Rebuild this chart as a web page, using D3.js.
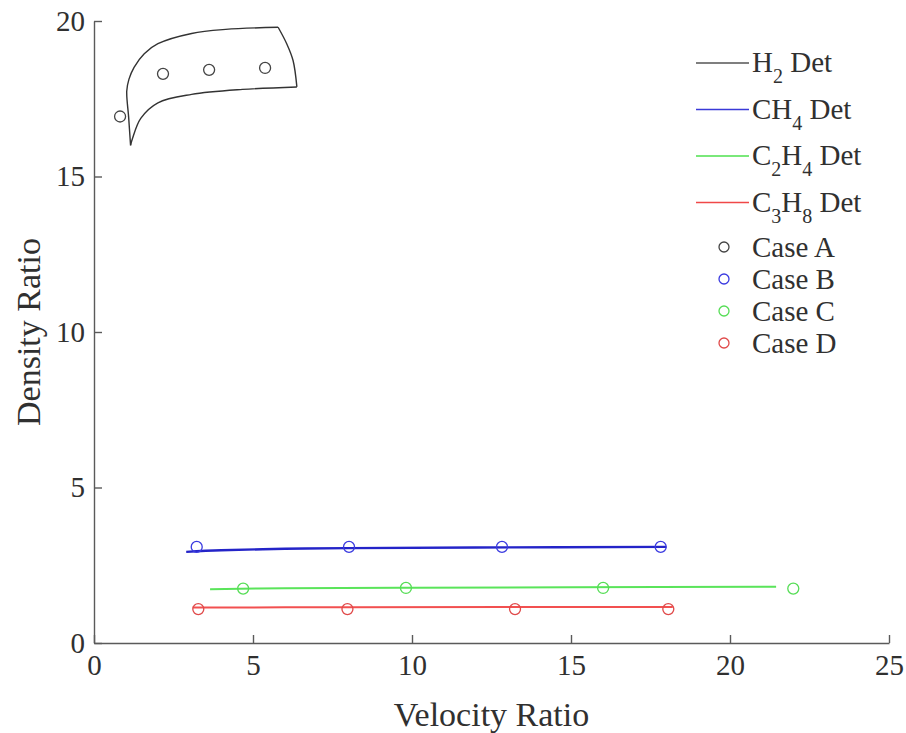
<!DOCTYPE html>
<html>
<head>
<meta charset="utf-8">
<script src="https://cdn.jsdelivr.net/npm/d3@7"></script>
<style>
  body { margin: 0; background: #fff; }
  svg { display: block; font-family: "Liberation Serif", "Times New Roman", serif; }
  .axis text { font-size: 29px; fill: #303030; font-family: "Liberation Serif", serif; }
  .axis path, .axis line { stroke: #5a5a5a; stroke-width: 1.4; }
</style>
</head>
<body>
<div id="svg-container"></div>
<script>
////////////////////////////////////////////////////////////////////
////////////////////////////  Data  ////////////////////////////////
const xTicks = [0, 5, 10, 15, 20, 25];
const yTicks = [0, 5, 10, 15, 20];

// detonation curves (velocity ratio, density ratio)
const h2Upper = [[1.15, 16.0], [1.09, 16.9], [1.03, 17.75], [1.10, 18.13], [1.26, 18.51], [1.58, 18.95], [2.01, 19.27], [3.07, 19.60], [4.14, 19.73], [5.79, 19.80]];
const h2Right = [[5.79, 19.80], [6.06, 19.27], [6.26, 18.73], [6.38, 17.88]];
const h2Lower = [[6.38, 17.88], [4.67, 17.80], [3.07, 17.64], [2.01, 17.37], [1.47, 16.87], [1.21, 16.22], [1.15, 16.0]];
const ch4Det = [[2.9, 2.93], [4.0, 2.98], [6.0, 3.03], [8.0, 3.05], [12.0, 3.07], [18.0, 3.09]];
const c2h4Det = [[3.65, 1.73], [6.0, 1.76], [10.0, 1.78], [15.0, 1.79], [21.45, 1.81]];
const c3h8Det = [[3.1, 1.14], [8.0, 1.15], [13.0, 1.16], [18.2, 1.16]];

// measured cases
const caseA = [[0.82, 16.93], [2.17, 18.30], [3.62, 18.43], [5.38, 18.49]];
const caseB = [[3.23, 3.09], [8.02, 3.09], [12.83, 3.09], [17.82, 3.09]];
const caseC = [[4.69, 1.75], [9.81, 1.77], [16.01, 1.77], [21.99, 1.75]];
const caseD = [[3.28, 1.09], [7.97, 1.09], [13.24, 1.09], [18.06, 1.09]];

const lineLegend = [
  { parts: [["H", 0], ["2", 1], [" Det", 0]], color: "#555" },
  { parts: [["CH", 0], ["4", 1], [" Det", 0]], color: "#3a3ad8" },
  { parts: [["C", 0], ["2", 1], ["H", 0], ["4", 1], [" Det", 0]], color: "#4ee04e" },
  { parts: [["C", 0], ["3", 1], ["H", 0], ["8", 1], [" Det", 0]], color: "#f04848" },
];
const caseLegend = [
  { label: "Case A", color: "#444" },
  { label: "Case B", color: "#3a3ae0" },
  { label: "Case C", color: "#55dd55" },
  { label: "Case D", color: "#e04a4a" },
];

////////////////////////////////////////////////////////////////////
////////////////////////////  Init  ////////////////////////////////
const width = 906;
const height = 733;
const margin = { top: 21, right: 17, bottom: 90, left: 94 };

const svg = d3.select("#svg-container").append("svg")
  .attr("width", width).attr("height", height);

const xScale = d3.scaleLinear().domain([0, 25]).range([margin.left, width - margin.right]);
const yScale = d3.scaleLinear().domain([0, 20]).range([height - margin.bottom, margin.top]);

const smooth = d3.line().x((d) => xScale(d[0])).y((d) => yScale(d[1])).curve(d3.curveCatmullRom);

// Axes (MATLAB style, ticks inside)
svg.append("g")
  .attr("class", "axis")
  .attr("transform", `translate(0,${height - margin.bottom})`)
  .call(d3.axisBottom(xScale).tickValues(xTicks).tickSize(-8).tickSizeOuter(0).tickPadding(11));

svg.append("g")
  .attr("class", "axis")
  .attr("transform", `translate(${margin.left},0)`)
  .call(d3.axisLeft(yScale).tickValues(yTicks).tickSize(-8).tickSizeOuter(0).tickPadding(9));

// Axis titles
svg.append("text")
  .attr("x", (margin.left + width - margin.right) / 2)
  .attr("y", 726)
  .attr("text-anchor", "middle")
  .attr("font-size", 34)
  .attr("fill", "#303030")
  .text("Velocity Ratio");

svg.append("text")
  .attr("transform", `translate(40,${(margin.top + height - margin.bottom) / 2}) rotate(-90)`)
  .attr("text-anchor", "middle")
  .attr("font-size", 34)
  .attr("fill", "#303030")
  .text("Density Ratio");

////////////////////////////////////////////////////////////////////
////////////////////////////  Curves  //////////////////////////////
[h2Upper, h2Right, h2Lower].forEach((seg) => {
  svg.append("path").datum(seg)
    .attr("d", smooth)
    .attr("fill", "none")
    .attr("stroke", "#333")
    .attr("stroke-width", 1.4);
});

[[ch4Det, "#2424c8", 2.4], [c2h4Det, "#5ae45a", 2], [c3h8Det, "#f25050", 2]].forEach(([d, c, w]) => {
  svg.append("path").datum(d)
    .attr("d", smooth)
    .attr("fill", "none")
    .attr("stroke", c)
    .attr("stroke-width", w);
});

[[caseA, "#444"], [caseB, "#3a3ae0"], [caseC, "#55dd55"], [caseD, "#e04a4a"]].forEach(([d, c]) => {
  svg.append("g").selectAll("circle")
    .data(d)
    .enter()
    .append("circle")
    .attr("cx", (p) => xScale(p[0]))
    .attr("cy", (p) => yScale(p[1]))
    .attr("r", 5.5)
    .attr("fill", "none")
    .attr("stroke", c)
    .attr("stroke-width", 1.3);
});

////////////////////////////////////////////////////////////////////
////////////////////////////  Legend  //////////////////////////////
const legend = svg.append("g");

lineLegend.forEach((item, i) => {
  const y = 63 + i * 46.5;
  legend.append("line")
    .attr("x1", 696).attr("x2", 749)
    .attr("y1", y).attr("y2", y)
    .attr("stroke", item.color)
    .attr("stroke-width", 1.6);
  const t = legend.append("text")
    .attr("x", 752).attr("y", y + 9)
    .attr("font-size", 29)
    .attr("fill", "#303030");
  let prevSub = 0;
  item.parts.forEach(([s, sub]) => {
    const ts = t.append("tspan").text(s);
    if (sub) ts.attr("font-size", 20).attr("dy", prevSub ? 0 : 11);
    else if (prevSub) ts.attr("dy", -11);
    prevSub = sub;
  });
});

caseLegend.forEach((item, i) => {
  const y = 247 + i * 32;
  legend.append("circle")
    .attr("cx", 724).attr("cy", y)
    .attr("r", 5)
    .attr("fill", "none")
    .attr("stroke", item.color)
    .attr("stroke-width", 1.3);
  legend.append("text")
    .attr("x", 752).attr("y", y + 10)
    .attr("font-size", 29)
    .attr("fill", "#303030")
    .text(item.label);
});
</script>
</body>
</html>
